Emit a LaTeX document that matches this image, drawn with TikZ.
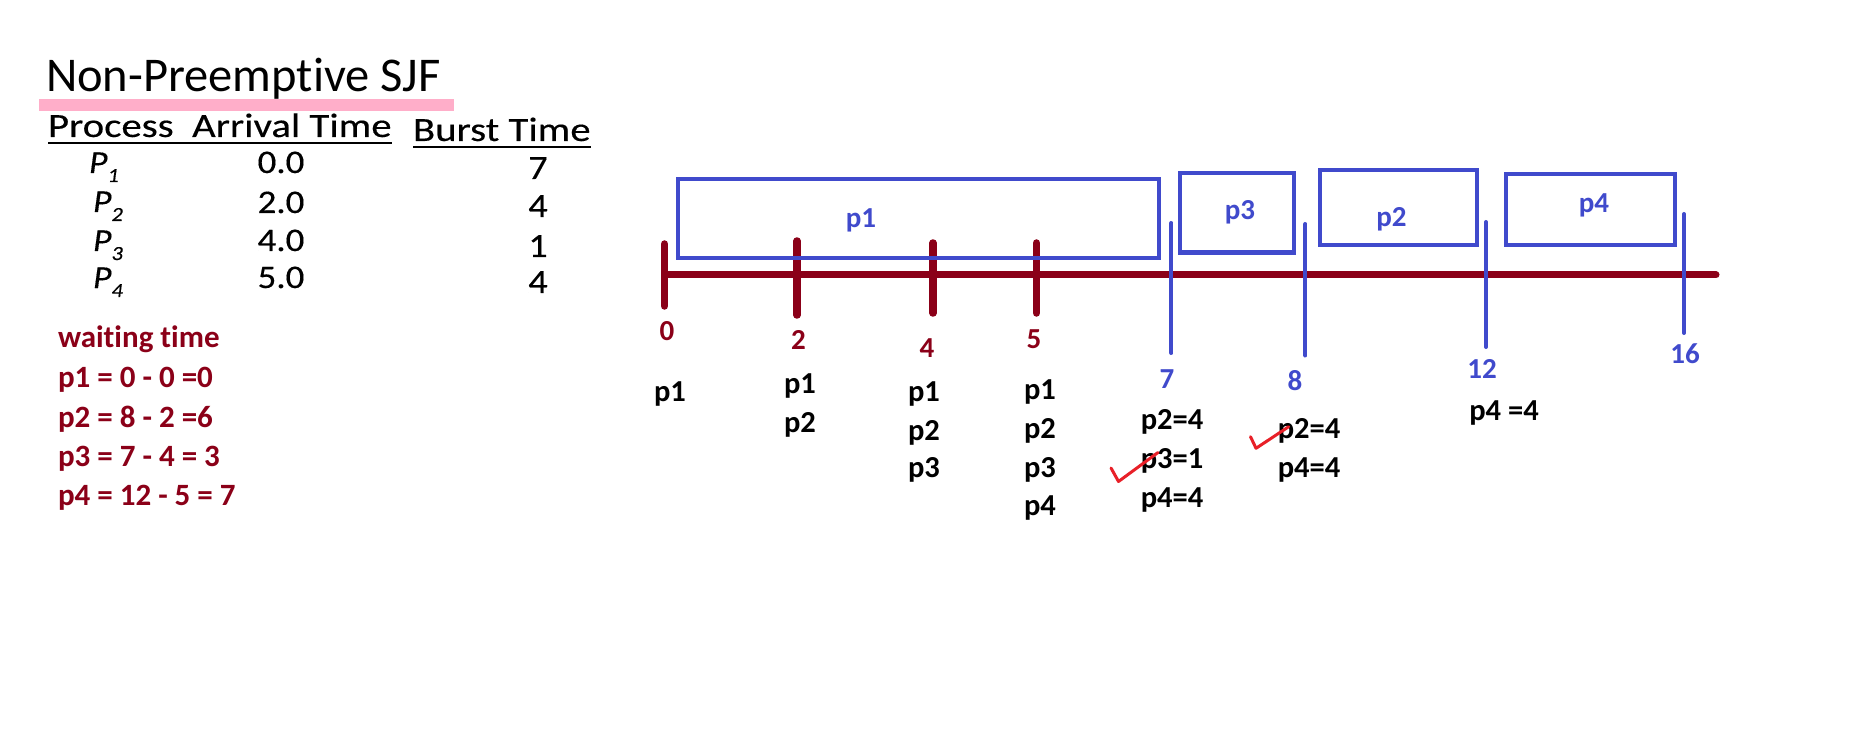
\documentclass[tikz,border=0pt]{standalone}
\usepackage{fontspec}
\setmainfont{Carlito}[Ligatures=NoCommon]
\newfontfamily\gill{Carlito}[FakeStretch=1.2,FakeBold=0.3,Ligatures=NoCommon]
\newfontfamily\gillnum{Carlito}[FakeStretch=1.12,FakeBold=0.3]
\definecolor{darkred}{RGB}{139,0,24}
\definecolor{gblue}{RGB}{64,74,204}
\definecolor{hlpink}{RGB}{255,174,201}
\definecolor{tickred}{RGB}{232,32,40}
\newcommand{\fs}[1]{\fontsize{#1}{#1}\selectfont}
\begin{document}
\begin{tikzpicture}[x=1pt,y=-1pt,
  txt/.style={inner sep=0pt,outer sep=0pt},
  title/.style={txt,anchor=base west,font=\fs{48.5}},
  head/.style={txt,anchor=base west,font=\gill\fs{34}},
  cell/.style={txt,anchor=base,font=\gillnum\fs{33}},
  pcell/.style={txt,anchor=base west,font=\gillnum\itshape\fs{32}},
  wait/.style={txt,anchor=base west,font=\bfseries\fs{31},text=darkred},
  axislbl/.style={txt,anchor=base,font=\bfseries\fs{29},text=darkred},
  bluelbl/.style={txt,anchor=base,font=\bfseries\fs{29},text=gblue},
  queue/.style={txt,anchor=base,font=\bfseries\fs{30.5},text=black},
  slot/.style={draw=gblue,line width=4.5pt,inner sep=0pt,fill=none},
  axisline/.style={draw=darkred,line width=7pt,line cap=round},
  ticksty/.style={draw=darkred,line width=7.5pt,line cap=round},
  edge/.style={draw=gblue,line width=4pt,line cap=round},
  checkmark/.style={draw=tickred,line width=3pt,line cap=round,line join=round}]
\useasboundingbox[fill=white] (0,0) rectangle (1852,743);

% ---- heading and table ----
\fill[hlpink] (39,99) rectangle (454,111);
\node[title] (ttl) at (46,92) {Non-Preemptive SJF};

\node[head] (hproc) at (48,137) {Process\ \ Arrival Time};
\node[head] (hburst) at (413,141) {Burst Time};
\draw[line width=2.5pt] (hproc.south west |- 0,143) -- (hproc.south east |- 0,143);
\draw[line width=2.5pt] (hburst.south west |- 0,147) -- (hburst.south east |- 0,147);

\node[pcell] (pa) at (89,173) {P\raisebox{-9pt}{\fs{20}1}};
\node[pcell] (pb) at (93,212) {P\raisebox{-9pt}{\fs{20}2}};
\node[pcell] (pc) at (93,251) {P\raisebox{-9pt}{\fs{20}3}};
\node[pcell] (pd) at (93,288) {P\raisebox{-9pt}{\fs{20}4}};

\node[cell] (aa) at (281,173) {0.0};
\node[cell] (ab) at (281,213) {2.0};
\node[cell] (ac) at (281,251) {4.0};
\node[cell] (ad) at (281,288) {5.0};

\node[cell,font=\gillnum\fs{34}] (ba) at (538,179) {7};
\node[cell,font=\gillnum\fs{34}] (bb) at (538,217) {4};
\node[cell,font=\gillnum\fs{34}] (bc) at (538,257) {1};
\node[cell,font=\gillnum\fs{34}] (bd) at (538,293) {4};

% ---- waiting times ----
\node[wait] (w0) at (58,347) {waiting time};
\node[wait] (w1) at (58,387) {p1 = 0 - 0 =0};
\node[wait] (w2) at (58,427) {p2 = 8 - 2 =6};
\node[wait] (w3) at (58,466) {p3 = 7 - 4 = 3};
\node[wait] (w4) at (58,505) {p4 = 12 - 5 = 7};

% ---- time axis ----
\coordinate (ax0) at (664.5,275);
\coordinate (ax1) at (1716,275);
\draw[axisline] (ax0) -- (ax1);
\draw[ticksty] (664.5,244) -- (664.5,306);
\draw[ticksty] (797,241) -- (797,315);
\draw[ticksty] (933,243) -- (933,313);
\draw[ticksty] (1036.5,243) -- (1036.5,313);

% ---- schedule slots ----
\node[slot,minimum width=481pt,minimum height=79pt] (s1) at (918.5,218.4) {};
\node[slot,minimum width=114pt,minimum height=79.5pt] (s3) at (1237,212.8) {};
\node[slot,minimum width=157pt,minimum height=75pt] (s2) at (1398.5,207.5) {};
\node[slot,minimum width=169pt,minimum height=71pt] (s4) at (1590.5,209.5) {};

\node[bluelbl] (l1) at (861,228) {p1};
\node[bluelbl] (l3) at (1240,220) {p3};
\node[bluelbl] (l2) at (1391.5,227) {p2};
\node[bluelbl] (l4) at (1594,213) {p4};

\draw[edge] (1171.4,223) -- (1171.4,353);
\draw[edge] (1305.4,224) -- (1305.4,355.5);
\draw[edge] (1486,222) -- (1486,347);
\draw[edge] (1684,214) -- (1684,333);

% ---- time stamps ----
\node[axislbl] (t0) at (667,340) {0};
\node[axislbl] (t2) at (798.5,349) {2};
\node[axislbl] (t4) at (927,357) {4};
\node[axislbl] (t5) at (1034,348) {5};
\node[bluelbl] (t7) at (1167,388) {7};
\node[bluelbl] (t8) at (1295,390) {8};
\node[bluelbl] (t12) at (1482,378) {12};
\node[bluelbl] (t16) at (1685,363) {16};

% ---- ready queues ----
\node[queue] (q0a) at (670,401) {p1};

\node[queue] (q2a) at (800,393) {p1};
\node[queue] (q2b) at (800,432) {p2};

\node[queue] (q4a) at (924,401) {p1};
\node[queue] (q4b) at (924,440) {p2};
\node[queue] (q4c) at (924,477) {p3};

\node[queue] (q5a) at (1040,399) {p1};
\node[queue] (q5b) at (1040,438) {p2};
\node[queue] (q5c) at (1040,477) {p3};
\node[queue] (q5d) at (1040,515) {p4};

\node[queue] (q7a) at (1172,429) {p2=4};
\node[queue] (q7b) at (1172,468) {p3=1};
\node[queue] (q7c) at (1172,507) {p4=4};

\node[queue] (q8a) at (1309,438) {p2=4};
\node[queue] (q8b) at (1309,477) {p4=4};

\node[queue] (q12a) at (1504,420) {p4 =4};

% ---- selection marks ----
\draw[checkmark] (1111,468) -- (1118.5,481.5) -- (1158,452.5);
\draw[checkmark] (1250.5,436.7) -- (1256,448.3) -- (1288.7,426.7);
\end{tikzpicture}
\end{document}
